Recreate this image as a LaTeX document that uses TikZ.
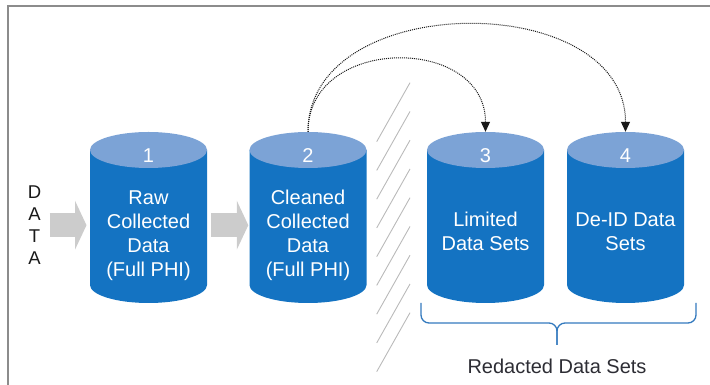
\documentclass[tikz,border=0pt]{standalone}
\usepackage{fontspec}
\setmainfont{Liberation Sans}
\usetikzlibrary{arrows.meta,calc,positioning}
\definecolor{dbblue}{RGB}{20,115,194}
\definecolor{dbtop}{RGB}{124,163,214}
\definecolor{dbgray}{RGB}{204,204,204}
\definecolor{dbbrace}{RGB}{52,122,190}
\definecolor{dbtext}{RGB}{45,45,52}

\begin{document}
\begin{tikzpicture}[x=1pt,y=1pt,
    dbcyl/.style={minimum width=117pt,minimum height=171pt,inner sep=0pt,
      path picture={
        \fill[dbblue] ([yshift=-18pt]path picture bounding box.north west) -- ([yshift=18pt]path picture bounding box.south west)
          arc[start angle=180,end angle=360,x radius=58.5pt,y radius=18pt] -- ([yshift=-18pt]path picture bounding box.north east) -- cycle;
        \fill[dbtop] ([yshift=-18pt]path picture bounding box.north) ellipse[x radius=58.5pt,y radius=18pt];
      }},
    dbnum/.style={text=white,inner sep=0pt,font=\fontsize{20}{24}\selectfont},
    dblabel/.style={text=white,inner sep=0pt,align=center,font=\fontsize{20}{24}\selectfont},
    bigarrow/.style={dbgray,line width=24pt,-{Triangle[length=11.5pt,width=49pt,line width=0pt]}},
    copyarrow/.style={black!90,line width=1pt,densely dotted,-{Triangle[length=10pt,width=9pt]}}]
  \useasboundingbox (0,0) rectangle (710,385);
  \draw[black!45,line width=1.8pt] (710,379) -- (8.3,379) -- (8.3,0);

  % the four data stores
  \node[dbcyl] (c1) at (148.5,167.5) {};
  \node[dbcyl] (c2) at (308,167.5) {};
  \node[dbcyl] (c3) at (485.5,167.5) {};
  \node[dbcyl] (c4) at (625.5,167.5) {};
  \node[dbnum] (n1) at ([yshift=-24pt]c1.north) {1};
  \node[dbnum] (n2) at ([yshift=-24pt]c2.north) {2};
  \node[dbnum] (n3) at ([yshift=-24pt]c3.north) {3};
  \node[dbnum] (n4) at ([yshift=-24pt]c4.north) {4};
  \node[dblabel] (t1) at ([yshift=-104pt]c1.north) {Raw\\Collected\\Data\\(Full PHI)};
  \node[dblabel] (t2) at ([yshift=-104pt]c2.north) {Cleaned\\Collected\\Data\\(Full PHI)};
  \node[dblabel] (t3) at ([yshift=-99.6pt]c3.north) {Limited\\Data Sets};
  \node[dblabel] (t4) at ([yshift=-99.6pt]c4.north) {De-ID Data\\Sets};

  % incoming data
  \node[text=black!90,inner sep=0pt,align=center,font=\fontsize{18.5}{22.2}\selectfont] (data) at (34.5,159.8) {D\\A\\T\\A};
  \draw[bigarrow,shorten <=8.3pt,shorten >=3.3pt] (data.east) -- (data.east -| c1.west);
  \draw[bigarrow,shorten <=4pt,shorten >=1pt] (data.east -| c1.east) -- (data.east -| c2.west);

  % separation line
  \foreach \k in {0,...,8}
    \draw[black!27,line width=0.9pt] ({376.7},{243.3-28.75*\k}) -- ({410},{302.3-28.75*\k});

  \draw[copyarrow] (c2.north) .. controls +(0,97) and +(0,97) .. (c3.north);
  \draw[copyarrow] (c2.north) .. controls +(0,143) and +(0,143) .. (c4.north);

  % brace under the redacted sets
  \coordinate (bl) at (421,82);
  \coordinate (br) at (696,82);
  \coordinate (bt) at (557,40);
  \draw[dbbrace,line width=1.3pt,rounded corners=8pt] (bl) |- ($(bt)+(0,22)$) -- (bt);
  \draw[dbbrace,line width=1.3pt,rounded corners=8pt] (br) |- ($(bt)+(0,22)$) -- (bt);
  \node[text=dbtext,anchor=base,inner sep=0pt,font=\fontsize{20}{24}\selectfont] (redacted) at (557,11.7) {Redacted Data Sets};
\end{tikzpicture}
\end{document}
